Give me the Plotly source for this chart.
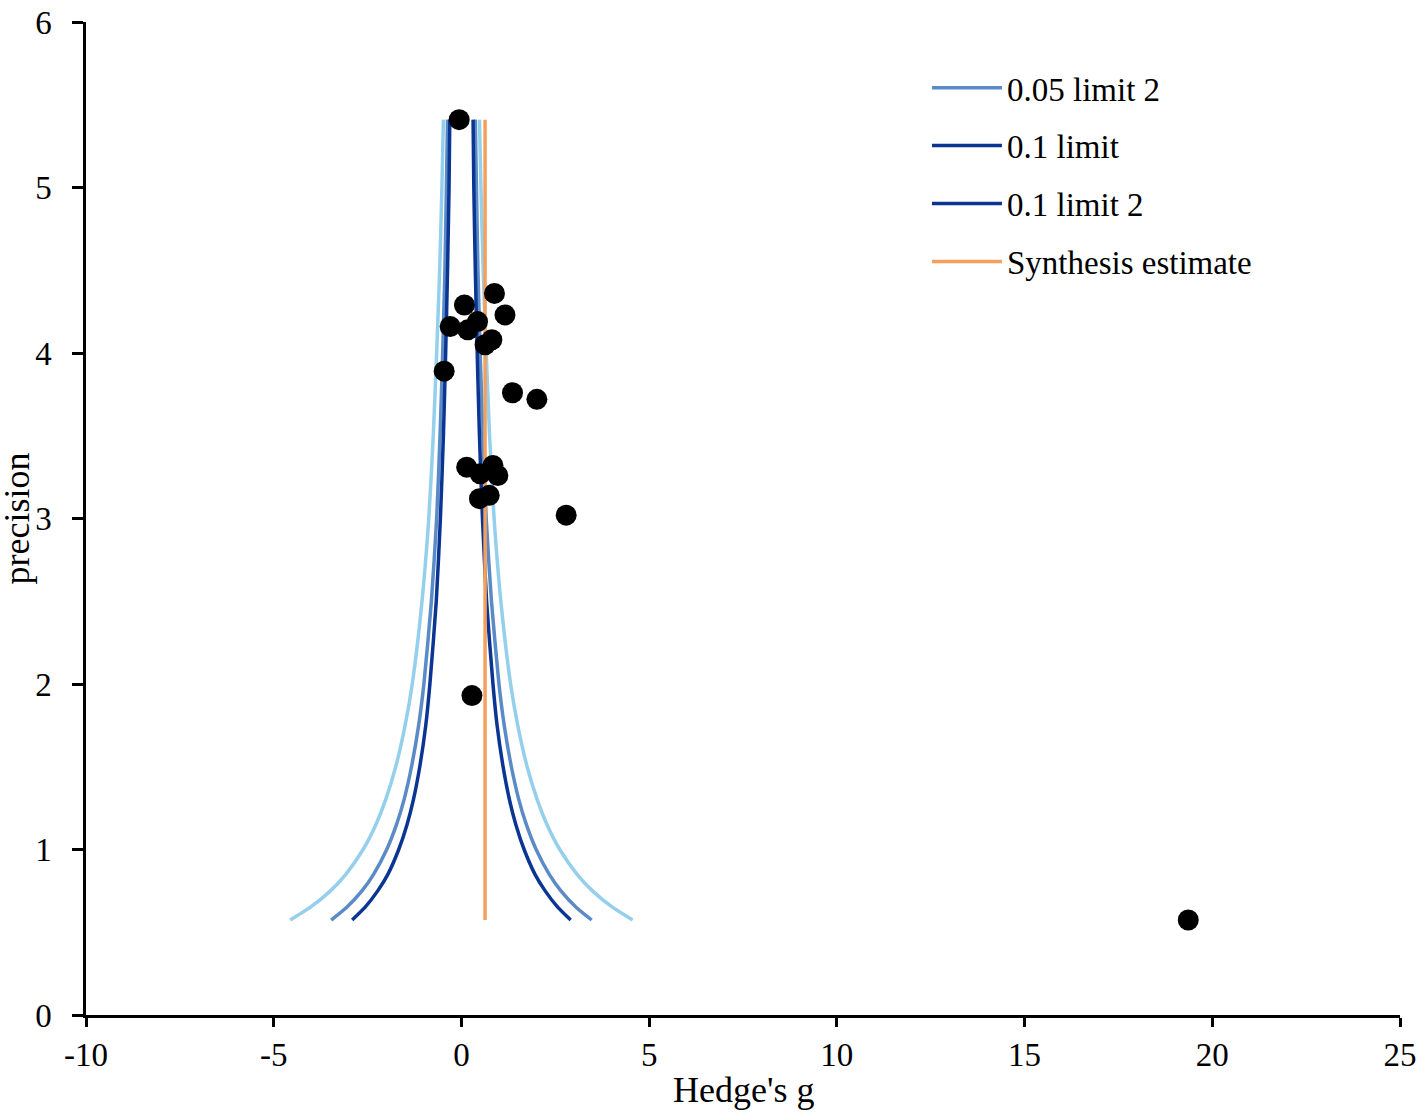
import plotly.graph_objects as go

# études : effet (g de Hedges) et précision (1/SE)
hedges_g = [-0.06, 0.88, 0.08, 1.16, -0.30, 0.43, 0.17, 0.81, 0.63, -0.46, 1.36,
            2.01, 0.14, 0.84, 0.50, 0.97, 0.74, 0.48, 2.79, 0.28, 19.36]
precision = [5.41, 4.36, 4.29, 4.23, 4.16, 4.19, 4.14, 4.08, 4.05, 3.89, 3.76,
             3.72, 3.31, 3.32, 3.27, 3.26, 3.14, 3.12, 3.02, 1.93, 0.574]

# courbes de l'entonnoir
funnel_prec = [0.574, 0.65, 0.75, 0.85, 1.0, 1.15, 1.3, 1.5, 1.75, 2.0, 2.5,
               3.0, 3.5, 4.0, 4.5, 5.0, 5.41]
lim01_low = [-4.56, -4.03, -3.49, -3.08, -2.62, -2.28, -2.02, -1.75, -1.50, -1.31,
             -1.05, -0.87, -0.75, -0.66, -0.58, -0.52, -0.48]
lim01_high = [4.56, 4.03, 3.49, 3.08, 2.62, 2.28, 2.02, 1.75, 1.50, 1.31,
              1.05, 0.87, 0.75, 0.66, 0.58, 0.52, 0.48]
lim05_low = [-3.47, -3.06, -2.65, -2.34, -1.99, -1.73, -1.53, -1.33, -1.14, -1.00,
             -0.80, -0.66, -0.57, -0.50, -0.44, -0.40, -0.37]
lim05_high = [3.47, 3.06, 2.65, 2.34, 1.99, 1.73, 1.53, 1.33, 1.14, 1.00,
              0.80, 0.66, 0.57, 0.50, 0.44, 0.40, 0.37]
lim10_low = [-2.91, -2.57, -2.23, -1.96, -1.67, -1.45, -1.28, -1.11, -0.95, -0.84,
             -0.67, -0.56, -0.48, -0.42, -0.37, -0.33, -0.31]
lim10_high = [2.91, 2.57, 2.23, 1.96, 1.67, 1.45, 1.28, 1.11, 0.95, 0.84,
              0.67, 0.56, 0.48, 0.42, 0.37, 0.33, 0.31]

synth_x = [0.63, 0.63]
synth_y = [0.574, 5.41]

x_ticks = [-10, -5, 0, 5, 10, 15, 20, 25]
x_tick_labels = ['-10', '-5', '0', '5', '10', '15', '20', '25']

light = '#94cfec'
mid = '#5b8bc7'
dark = '#0b3592'
orange = '#f4a05c'

fig = go.Figure()


def ligne(x, y, nom, couleur, legende):
    fig.add_trace(go.Scatter(x=x, y=y, mode='lines', name=nom, legendgroup=nom,
                             line=dict(color=couleur, width=3.5, shape='spline', smoothing=0.6),
                             showlegend=legende))


ligne(lim01_low, funnel_prec, '0.01 limit', light, False)
ligne(lim01_high, funnel_prec, '0.01 limit 2', light, False)
ligne(lim05_low, funnel_prec, '0.05 limit', mid, False)
ligne(lim05_high, funnel_prec, '0.05 limit 2', mid, True)
ligne(lim10_low, funnel_prec, '0.1 limit', dark, True)
ligne(lim10_high, funnel_prec, '0.1 limit 2', dark, True)
ligne(synth_x, synth_y, 'Synthesis estimate', orange, True)

fig.add_trace(go.Scatter(x=hedges_g, y=precision, mode='markers', name='studies',
                         marker=dict(color='black', size=21), showlegend=False))

police = 'Liberation Serif, Times New Roman, serif'

fig.update_layout(
    width=1421, height=1112,
    margin=dict(l=86, r=21, t=22, b=97, autoexpand=False),
    plot_bgcolor='white', paper_bgcolor='white',
    font=dict(family=police, size=33, color='black'),
    legend=dict(x=0.64, y=0.962, xanchor='left', yanchor='top',
                font=dict(size=33), itemwidth=70, tracegroupgap=12,
                traceorder='grouped', bgcolor='rgba(0,0,0,0)'),
)

# titres des axes en annotations (placement précis)
fig.add_annotation(text="Hedge's g", xref='paper', yref='paper', x=0.5, y=0,
                   yanchor='middle', yshift=-75, showarrow=False, font=dict(size=36))
fig.add_annotation(text='precision', xref='paper', yref='paper', x=0, y=0.5,
                   xanchor='center', xshift=-70, textangle=-90, showarrow=False,
                   font=dict(size=36))

fig.update_xaxes(range=[-10, 25], tickvals=x_ticks, ticktext=x_tick_labels,
                 showgrid=False, zeroline=False, showline=True, linecolor='black',
                 linewidth=2.5, ticks='outside', ticklen=9, tickwidth=2.5, tickcolor='black',
                 ticklabelstandoff=0, ticklabeloverflow='allow')
fig.update_yaxes(range=[0, 6], dtick=1, showgrid=False, zeroline=False,
                 showline=True, linecolor='black', linewidth=2.5, ticks='outside',
                 ticklen=11, tickwidth=2.5, tickcolor='black', ticklabelstandoff=14,
                 ticklabeloverflow='allow')

# pas de marge de page autour du graphique
fig.write_html('out.html', config={'displayModeBar': False},
               post_script="document.body.style.margin='0';document.body.style.overflow='hidden';")
